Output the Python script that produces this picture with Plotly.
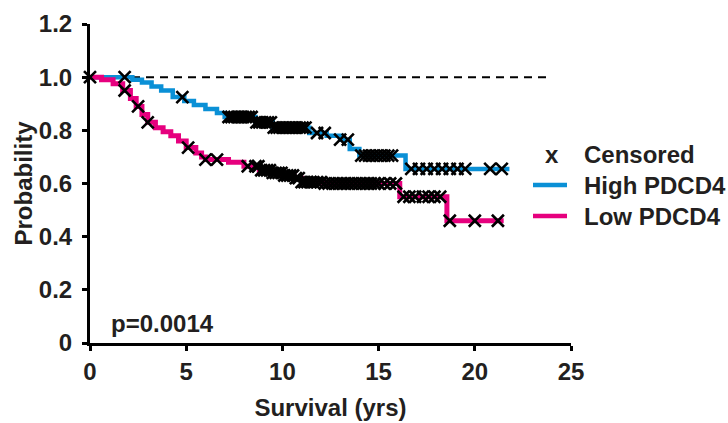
import numpy as np
import plotly.graph_objects as go

# ---- data ----
t_high = [0, 2.2, 2.7, 3.2, 3.7, 4.3, 4.9, 5.4, 6.0, 6.6, 7.0, 8.6, 9.5, 11.4, 12.3, 13.0, 13.5, 14.0, 16.4]
s_high = [1.0, 0.99, 0.98, 0.965, 0.95, 0.925, 0.91, 0.895, 0.88, 0.865, 0.85, 0.83, 0.81, 0.79, 0.78, 0.765, 0.73, 0.705, 0.655]
end_high = 21.8
cens_high = [1.8, 4.8,
             7.2, 7.35, 7.5, 7.65, 7.8, 7.95, 8.1, 8.25, 8.4,
             8.65, 8.8, 8.95, 9.1, 9.25, 9.4,
             9.55, 9.7, 9.85, 10.0, 10.15, 10.3, 10.45, 10.6, 10.75, 10.9, 11.05, 11.2,
             11.8, 12.2, 13.0, 13.4,
             14.1, 14.3, 14.5, 14.7, 14.9, 15.1, 15.3, 15.5, 15.7,
             16.7, 17.1, 17.5, 17.9, 18.3, 18.7, 19.1, 19.5,
             20.8, 21.4]

t_low = [0, 0.6, 1.2, 1.7, 2.1, 2.4, 2.7, 3.0, 3.4, 3.8, 4.2, 4.6, 5.0, 5.5, 5.8, 6.0, 7.2, 8.0,
         8.8, 9.4, 10.0, 10.6, 11.0, 12.2, 16.1, 18.55]
s_low = [1.0, 0.99, 0.975, 0.95, 0.92, 0.89, 0.86, 0.83, 0.81, 0.795, 0.78, 0.76, 0.735, 0.715,
         0.70, 0.69, 0.68, 0.665, 0.65, 0.64, 0.63, 0.62, 0.605, 0.60, 0.55, 0.46]
end_low = 21.5
cens_low = [1.8, 2.5, 3.0, 5.1, 6.0, 6.6, 8.2,
            8.6, 8.75, 8.9, 9.05, 9.2, 9.35, 9.5, 9.65, 9.8, 9.95, 10.1, 10.25, 10.4, 10.55,
            10.7, 10.85,
            11.0, 11.15, 11.3, 11.45, 11.6, 11.8, 12.0, 12.2, 12.4, 12.6, 12.8, 13.0, 13.2,
            13.4, 13.6, 13.8, 14.0, 14.2, 14.4, 14.6, 14.8, 15.0, 15.3, 15.6, 15.9,
            16.3, 16.6, 16.9, 17.3, 17.6, 17.9, 18.2,
            18.7, 20.0, 21.2]
cens_start = [0]

ref_x = [0, 24]
ref_y = [1.0, 1.0]

x_ticks = [0, 5, 10, 15, 20, 25]
y_ticks = [0, 0.2, 0.4, 0.6, 0.8, 1.0, 1.2]
y_ticktext = ["0", "0.2", "0.4", "0.6", "0.8", "1.0", "1.2"]

BLUE = "#0A90D6"
PINK = "#E6007E"
INK = "#231F20"
FONT = "Liberation Sans, Arial, sans-serif"
FS = 24


def step_value(times, surv, q):
    idx = np.searchsorted(np.array(times), np.array(q), side="right") - 1
    return np.array(surv)[idx]


fig = go.Figure()

fig.add_trace(go.Scatter(x=ref_x, y=ref_y, mode="lines",
                         line=dict(color="black", width=2, dash="8px,6px"),
                         showlegend=False, hoverinfo="skip"))

fig.add_trace(go.Scatter(x=t_high + [end_high], y=s_high + [s_high[-1]], mode="lines",
                         line=dict(color=BLUE, width=4.5, shape="hv"),
                         name="High PDCD4", showlegend=False, cliponaxis=False))
fig.add_trace(go.Scatter(x=t_low + [end_low], y=s_low + [s_low[-1]], mode="lines",
                         line=dict(color=PINK, width=5, shape="hv"),
                         name="Low PDCD4", showlegend=False, cliponaxis=False))

xmark = dict(symbol="x-thin", size=12, color="black", line=dict(color="black", width=2.6))
fig.add_trace(go.Scatter(x=cens_high, y=step_value(t_high, s_high, cens_high), mode="markers",
                         marker=xmark, showlegend=False, cliponaxis=False))
fig.add_trace(go.Scatter(x=cens_low, y=step_value(t_low, s_low, cens_low), mode="markers",
                         marker=xmark, showlegend=False, cliponaxis=False))
fig.add_trace(go.Scatter(x=cens_start, y=[1.0], mode="markers",
                         marker=xmark, showlegend=False, cliponaxis=False))

axis_common = dict(showline=True, linecolor="black", linewidth=3, ticks="outside",
                   ticklen=5, tickwidth=2.5, tickcolor="black", showgrid=False, zeroline=False,
                   automargin=False,
                   tickfont=dict(family=FONT, size=FS, color=INK))

fig.update_xaxes(range=[0, 25], tickvals=x_ticks, ticktext=["<b>%d</b>" % v for v in x_ticks],
                 ticklabelstandoff=0,
                 title=dict(text="<b>Survival (yrs)</b>", font=dict(family=FONT, size=FS, color=INK),
                            standoff=16),
                 **axis_common)
fig.update_yaxes(range=[0, 1.2], tickvals=y_ticks, ticktext=["<b>%s</b>" % t for t in y_ticktext],
                 ticklabelstandoff=5,
                 title=dict(text="<b>Probability</b>", font=dict(family=FONT, size=FS, color=INK),
                            standoff=0),
                 **axis_common)

# plot-area geometry in pixels (used only for placing the text legend)
W, H = 728, 423
L, R, T, B = 90, 157, 24, 80
PW, PH = W - L - R, H - T - B


def px(xp):
    return (xp - L) / PW


def py(yp):
    return (H - B - yp) / PH


annotations = [
    dict(x=1.0, y=0.075, xref="x", yref="y", text="<b>p=0.0014</b>", showarrow=False,
         xanchor="left", yanchor="middle", font=dict(family=FONT, size=FS, color=INK)),
]
leg_rows = [154, 185, 216]
leg_labels = ["Censored", "High PDCD4", "Low PDCD4"]
shapes = []
for yy, lab in zip(leg_rows, leg_labels):
    annotations.append(dict(x=px(582), y=py(yy), xref="paper", yref="paper",
                            text="<b>%s</b>" % lab, showarrow=False, xanchor="left",
                            yanchor="middle", font=dict(family=FONT, size=FS, color=INK)))
annotations.append(dict(x=px(552), y=py(leg_rows[0]), xref="paper", yref="paper", text="<b>x</b>",
                        showarrow=False, xanchor="center", yanchor="middle",
                        font=dict(family=FONT, size=FS, color=INK)))
for yy, col in zip(leg_rows[1:], [BLUE, PINK]):
    shapes.append(dict(type="line", xref="paper", yref="paper", x0=px(533), x1=px(567),
                       y0=py(yy), y1=py(yy), line=dict(color=col, width=4.5)))

fig.update_layout(width=W, height=H, margin=dict(l=L, r=R, t=T, b=B, pad=0),
                  plot_bgcolor="white", paper_bgcolor="white", showlegend=False,
                  annotations=annotations, shapes=shapes,
                  font=dict(family=FONT, color=INK))

fig.write_html("out.html", config={"displayModeBar": False},
               post_script="document.body.style.margin='0';document.body.style.padding='0';")
